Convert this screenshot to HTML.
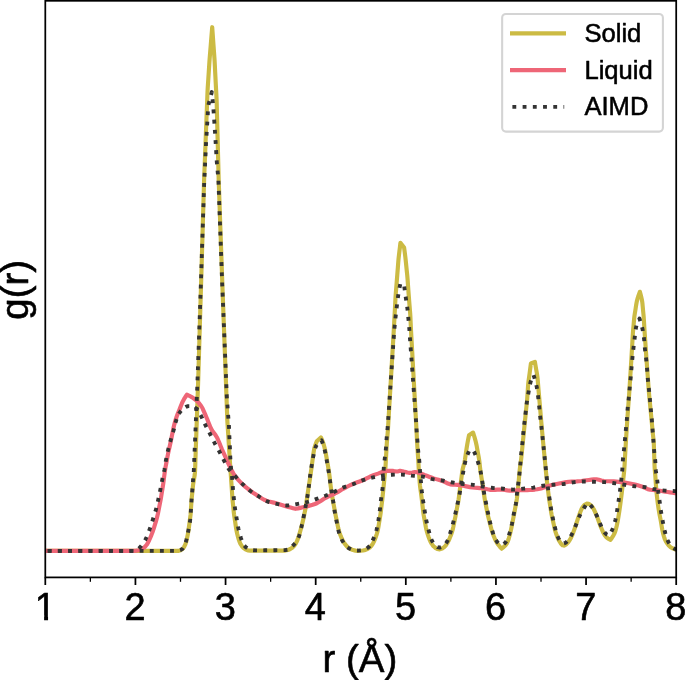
<!DOCTYPE html>
<html lang="en">
<head>
<meta charset="utf-8">
<title>g(r)</title>
<style>
html,body{margin:0;padding:0;background:#fff;}
body{width:685px;height:680px;overflow:hidden;}
svg{display:block;}
svg text{font-family:"Liberation Sans",Arial,Helvetica,sans-serif;fill:#000;stroke:#000;stroke-width:0.6px;stroke-linejoin:round;}
svg text.lg{stroke-width:0.55px;}
</style>
</head>
<body>
<svg width="685" height="680" viewBox="0 0 685 680">
<rect x="0" y="0" width="685" height="680" fill="#fff"/>
<defs><clipPath id="ax"><rect x="45.3" y="0.8" width="630.90" height="576.60"/></clipPath></defs>
<g clip-path="url(#ax)" fill="none" stroke-linejoin="round">
<polyline points="45.30,550.90 47.80,550.90 50.31,550.90 52.81,550.90 55.32,550.90 57.82,550.90 60.33,550.90 62.83,550.90 65.34,550.90 67.84,550.90 70.35,550.90 72.85,550.90 75.35,550.90 77.86,550.90 80.36,550.90 82.87,550.90 85.37,550.90 87.88,550.90 90.38,550.90 92.89,550.90 95.39,550.90 97.90,550.90 100.40,550.90 102.91,550.90 105.41,550.90 107.91,550.90 110.42,550.90 112.92,550.90 115.43,550.90 117.93,550.90 120.44,550.90 122.94,550.90 125.45,550.90 127.95,550.90 130.46,550.90 132.96,550.90 135.46,550.90 137.97,550.90 140.47,550.90 142.98,550.90 145.48,550.90 147.99,550.90 150.49,550.90 153.00,550.90 155.50,550.90 158.01,550.90 160.51,550.90 163.02,550.90 165.52,550.90 168.02,550.90 170.53,550.90 173.04,550.90 175.57,550.90 178.03,550.88 180.59,550.15 182.68,548.81 184.06,547.03 185.21,544.70 186.09,542.16 186.70,539.72 187.22,537.30 187.71,534.83 188.15,532.34 188.55,529.85 188.89,527.38 189.21,524.89 189.53,522.41 189.86,519.92 190.21,517.44 190.52,514.96 190.73,512.46 190.90,509.96 191.05,507.46 191.22,504.96 191.38,502.46 191.55,499.97 191.78,497.47 192.04,494.98 192.30,492.49 192.55,490.00 192.80,487.50 193.06,485.01 193.41,482.53 193.84,480.06 194.29,477.59 194.69,475.11 194.96,472.63 195.09,470.14 195.19,467.64 195.27,465.13 195.34,462.63 195.42,460.12 195.50,457.62 195.59,455.11 195.67,452.61 195.76,450.11 195.85,447.60 195.94,445.10 196.02,442.60 196.11,440.09 196.20,437.59 196.28,435.09 196.37,432.59 196.46,430.08 196.55,427.58 196.63,425.08 196.72,422.57 196.81,420.07 196.89,417.57 196.98,415.06 197.07,412.56 197.15,410.06 197.24,407.55 197.33,405.05 197.42,402.55 197.50,400.05 197.59,397.54 197.68,395.04 197.76,392.54 197.85,390.03 197.94,387.53 198.03,385.03 198.12,382.52 198.20,380.02 198.28,377.52 198.35,375.01 198.43,372.51 198.50,370.01 198.57,367.50 198.65,365.00 198.73,362.50 198.80,359.99 198.88,357.49 198.95,354.99 199.03,352.48 199.10,349.98 199.18,347.48 199.25,344.97 199.33,342.47 199.40,339.97 199.48,337.46 199.55,334.96 199.63,332.46 199.70,329.95 199.78,327.45 199.85,324.94 199.93,322.44 200.00,319.94 200.08,317.43 200.15,314.93 200.23,312.43 200.30,309.92 200.38,307.42 200.45,304.92 200.53,302.41 200.60,299.91 200.68,297.41 200.75,294.90 200.83,292.40 200.90,289.90 200.98,287.39 201.05,284.89 201.13,282.39 201.20,279.88 201.28,277.38 201.35,274.88 201.42,272.37 201.49,269.87 201.57,267.36 201.64,264.86 201.71,262.36 201.78,259.85 201.86,257.35 201.93,254.85 202.00,252.34 202.07,249.84 202.15,247.34 202.22,244.83 202.29,242.33 202.37,239.83 202.44,237.32 202.51,234.82 202.58,232.32 202.66,229.81 202.73,227.31 202.80,224.80 202.87,222.30 202.95,219.80 203.02,217.29 203.09,214.79 203.16,212.29 203.24,209.78 203.31,207.28 203.38,204.78 203.45,202.27 203.53,199.77 203.60,197.27 203.67,194.76 203.74,192.26 203.82,189.76 203.88,187.25 203.95,184.75 204.03,182.24 204.11,179.74 204.20,177.24 204.29,174.74 204.40,172.23 204.50,169.73 204.60,167.23 204.69,164.73 204.79,162.22 204.89,159.72 204.99,157.22 205.08,154.71 205.18,152.21 205.28,149.71 205.38,147.21 205.47,144.70 205.57,142.20 205.67,139.70 205.76,137.20 205.86,134.69 205.96,132.19 206.06,129.69 206.15,127.18 206.25,124.68 206.35,122.18 206.45,119.68 206.54,117.17 206.64,114.67 206.74,112.17 206.84,109.67 206.93,107.16 207.03,104.66 207.13,102.16 207.22,99.65 207.31,97.15 207.40,94.65 207.50,92.15 207.62,89.64 207.76,87.14 207.93,84.65 208.10,82.15 208.27,79.65 208.44,77.15 208.60,74.65 208.76,72.15 208.92,69.65 209.08,67.15 209.24,64.65 209.40,62.15 209.58,59.65 209.77,57.16 209.97,54.66 210.18,52.16 210.38,49.67 210.59,47.17 210.79,44.68 210.99,42.18 211.19,39.68 211.39,37.19 211.59,34.69 211.80,32.19 212.00,29.70 212.20,27.20 212.38,29.70 212.56,32.19 212.74,34.69 212.92,37.18 213.09,39.68 213.27,42.17 213.45,44.67 213.63,47.16 213.81,49.66 214.00,52.15 214.18,54.65 214.36,57.14 214.53,59.64 214.67,62.14 214.80,64.64 214.93,67.13 215.05,69.63 215.17,72.13 215.30,74.63 215.43,77.13 215.56,79.63 215.68,82.13 215.81,84.62 215.94,87.12 216.08,89.62 216.22,92.12 216.36,94.62 216.48,97.12 216.59,99.62 216.67,102.12 216.74,104.62 216.80,107.12 216.86,109.62 216.92,112.12 216.98,114.62 217.05,117.12 217.12,119.62 217.18,122.12 217.25,124.62 217.31,127.12 217.38,129.63 217.44,132.13 217.51,134.63 217.57,137.13 217.64,139.63 217.71,142.13 217.77,144.63 217.84,147.13 217.90,149.63 217.97,152.13 218.03,154.63 218.10,157.14 218.17,159.64 218.23,162.14 218.30,164.64 218.36,167.14 218.43,169.64 218.49,172.14 218.55,174.64 218.62,177.14 218.69,179.64 218.77,182.14 218.85,184.64 218.94,187.14 219.04,189.65 219.13,192.15 219.21,194.65 219.30,197.15 219.39,199.65 219.48,202.15 219.56,204.65 219.65,207.15 219.74,209.65 219.83,212.15 219.91,214.65 220.00,217.15 220.09,219.65 220.18,222.15 220.26,224.65 220.35,227.15 220.44,229.65 220.53,232.15 220.61,234.65 220.70,237.15 220.79,239.65 220.88,242.15 220.96,244.65 221.05,247.15 221.14,249.65 221.23,252.15 221.31,254.65 221.40,257.15 221.49,259.65 221.58,262.15 221.66,264.65 221.75,267.15 221.84,269.65 221.92,272.15 222.01,274.65 222.10,277.15 222.19,279.65 222.28,282.15 222.37,284.65 222.46,287.15 222.55,289.65 222.65,292.15 222.74,294.65 222.83,297.15 222.92,299.65 223.01,302.15 223.10,304.65 223.20,307.15 223.29,309.65 223.38,312.15 223.47,314.65 223.56,317.15 223.65,319.66 223.75,322.16 223.84,324.66 223.93,327.16 224.02,329.66 224.11,332.16 224.20,334.66 224.30,337.16 224.39,339.66 224.48,342.16 224.57,344.66 224.66,347.16 224.75,349.66 224.85,352.16 224.94,354.66 225.03,357.16 225.12,359.66 225.21,362.16 225.30,364.66 225.40,367.16 225.49,369.66 225.58,372.16 225.67,374.66 225.76,377.16 225.85,379.66 225.95,382.16 226.04,384.66 226.13,387.16 226.22,389.66 226.31,392.16 226.41,394.66 226.50,397.16 226.59,399.66 226.68,402.16 226.76,404.66 226.85,407.16 226.94,409.66 227.02,412.16 227.10,414.66 227.19,417.16 227.28,419.66 227.41,422.16 227.57,424.65 227.74,427.15 227.91,429.65 228.07,432.14 228.23,434.64 228.39,437.14 228.55,439.63 228.71,442.13 228.87,444.63 229.02,447.12 229.18,449.62 229.34,452.12 229.50,454.61 229.66,457.11 229.81,459.61 229.97,462.11 230.13,464.60 230.30,467.10 230.47,469.59 230.64,472.09 230.81,474.59 230.98,477.08 231.15,479.58 231.32,482.07 231.49,484.57 231.66,487.07 231.83,489.56 232.00,492.06 232.16,494.55 232.33,497.05 232.51,499.55 232.75,502.04 233.01,504.52 233.28,507.01 233.52,509.50 233.76,511.99 234.05,514.48 234.40,516.95 234.79,519.43 235.17,521.90 235.53,524.38 235.89,526.86 236.29,529.32 236.76,531.79 237.32,534.26 237.95,536.71 238.63,539.10 239.39,541.42 240.45,543.80 241.82,546.02 243.41,547.82 245.40,549.27 247.81,550.36 250.25,550.60 252.71,550.60 255.22,550.60 257.76,550.60 260.29,550.60 262.79,550.60 265.29,550.60 267.80,550.60 270.30,550.60 272.80,550.60 275.31,550.60 277.84,550.60 280.36,550.60 282.85,550.60 285.30,550.58 287.81,550.03 290.22,548.98 292.24,547.73 293.97,546.05 295.50,543.92 296.75,541.62 297.69,539.36 298.51,537.03 299.27,534.63 299.98,532.19 300.65,529.75 301.29,527.34 301.92,524.92 302.53,522.49 303.12,520.05 303.67,517.61 304.18,515.17 304.67,512.71 305.14,510.25 305.58,507.79 306.00,505.32 306.37,502.85 306.73,500.38 307.07,497.90 307.41,495.42 307.76,492.94 308.13,490.46 308.51,487.99 308.90,485.52 309.28,483.05 309.66,480.58 310.03,478.10 310.39,475.63 310.75,473.15 311.11,470.67 311.45,468.20 311.79,465.72 312.12,463.24 312.45,460.76 312.79,458.28 313.12,455.78 313.47,453.30 313.85,450.83 314.31,448.40 315.00,446.00 315.86,443.64 316.80,441.30 320.90,437.40 321.96,439.68 322.90,442.00 323.65,444.36 324.31,446.77 324.91,449.21 325.45,451.66 325.93,454.11 326.37,456.57 326.80,459.03 327.22,461.50 327.63,463.97 328.05,466.43 328.46,468.90 328.85,471.37 329.22,473.84 329.55,476.32 329.84,478.80 330.11,481.29 330.40,483.77 330.71,486.25 331.05,488.73 331.41,491.20 331.78,493.68 332.17,496.15 332.57,498.61 332.99,501.08 333.45,503.54 333.91,505.99 334.36,508.45 334.80,510.91 335.26,513.37 335.74,515.83 336.24,518.27 336.75,520.72 337.24,523.18 337.72,525.64 338.23,528.08 338.84,530.49 339.59,532.91 340.46,535.30 341.42,537.63 342.44,539.88 343.59,542.05 345.03,544.20 346.70,546.18 348.53,547.78 350.61,549.03 353.00,550.04 355.44,550.62 357.93,550.83 360.47,550.80 362.94,550.55 365.43,549.90 367.79,548.85 369.75,547.54 371.43,545.76 372.90,543.60 374.10,541.30 375.03,539.04 375.90,536.71 376.70,534.30 377.40,531.87 377.97,529.42 378.43,526.98 378.82,524.51 379.21,522.03 379.62,519.56 380.03,517.10 380.42,514.63 380.76,512.15 381.05,509.67 381.35,507.19 381.65,504.70 381.97,502.22 382.26,499.74 382.53,497.26 382.78,494.77 383.03,492.28 383.28,489.79 383.54,487.31 383.79,484.82 384.03,482.33 384.27,479.84 384.50,477.35 384.75,474.86 385.00,472.38 385.25,469.89 385.44,467.39 385.61,464.90 385.75,462.40 385.88,459.91 386.02,457.41 386.16,454.91 386.30,452.42 386.44,449.92 386.57,447.42 386.72,444.93 386.88,442.43 387.06,439.94 387.27,437.45 387.50,434.96 387.71,432.47 387.90,429.97 388.06,427.48 388.21,424.98 388.35,422.49 388.49,419.99 388.64,417.49 388.79,415.00 388.93,412.50 389.08,410.01 389.23,407.51 389.37,405.01 389.52,402.52 389.67,400.02 389.82,397.53 389.96,395.03 390.11,392.54 390.26,390.04 390.40,387.54 390.55,385.05 390.70,382.55 390.85,380.06 390.99,377.56 391.14,375.06 391.29,372.57 391.44,370.07 391.58,367.58 391.73,365.08 391.88,362.58 392.02,360.09 392.17,357.59 392.32,355.10 392.47,352.60 392.61,350.10 392.76,347.61 392.91,345.11 393.06,342.62 393.20,340.12 393.35,337.63 393.50,335.13 393.65,332.63 393.79,330.14 393.93,327.64 394.06,325.14 394.19,322.65 394.32,320.15 394.46,317.65 394.59,315.16 394.72,312.66 394.86,310.16 394.99,307.67 395.12,305.17 395.24,302.67 395.37,300.18 395.51,297.68 395.67,295.18 395.85,292.69 396.06,290.20 396.27,287.71 396.46,285.21 396.66,282.72 396.85,280.23 397.05,277.74 397.25,275.24 397.44,272.75 397.64,270.26 397.84,267.77 398.03,265.27 398.21,262.78 398.42,260.29 398.66,257.80 398.95,255.32 399.25,252.83 399.54,250.35 399.83,247.87 400.11,245.38 400.40,242.90 404.10,247.60 404.44,250.08 404.77,252.57 405.09,255.06 405.39,257.54 405.67,260.03 405.93,262.53 406.18,265.02 406.43,267.52 406.68,270.01 406.95,272.50 407.21,274.99 407.43,277.49 407.63,279.99 407.81,282.49 407.98,284.99 408.16,287.49 408.34,289.99 408.52,292.49 408.71,294.99 408.90,297.49 409.09,299.99 409.29,302.49 409.49,304.99 409.69,307.48 409.90,309.98 410.11,312.48 410.28,314.98 410.42,317.48 410.53,319.99 410.64,322.49 410.76,325.00 410.88,327.50 411.00,330.00 411.13,332.51 411.27,335.01 411.41,337.51 411.55,340.01 411.69,342.52 411.83,345.02 411.96,347.52 412.10,350.02 412.24,352.53 412.38,355.03 412.51,357.53 412.65,360.04 412.79,362.54 412.93,365.04 413.06,367.54 413.20,370.05 413.34,372.55 413.48,375.05 413.62,377.55 413.75,380.06 413.89,382.56 414.03,385.06 414.17,387.57 414.30,390.07 414.44,392.57 414.58,395.07 414.72,397.58 414.85,400.08 414.99,402.58 415.13,405.08 415.27,407.59 415.40,410.09 415.54,412.59 415.68,415.10 415.82,417.60 415.96,420.10 416.10,422.60 416.24,425.11 416.37,427.61 416.51,430.11 416.63,432.62 416.75,435.12 416.87,437.62 416.99,440.13 417.13,442.63 417.28,445.13 417.44,447.63 417.61,450.13 417.77,452.64 417.93,455.14 418.09,457.64 418.26,460.14 418.41,462.64 418.56,465.14 418.67,467.65 418.81,470.15 418.98,472.65 419.18,475.15 419.37,477.65 419.55,480.15 419.73,482.65 419.94,485.15 420.24,487.63 420.59,490.12 420.92,492.60 421.25,495.09 421.57,497.57 421.88,500.06 422.17,502.55 422.45,505.04 422.74,507.53 423.01,510.02 423.29,512.52 423.64,514.99 424.08,517.46 424.56,519.92 425.02,522.39 425.45,524.86 425.90,527.33 426.42,529.77 427.06,532.21 427.80,534.63 428.62,537.01 429.49,539.32 430.51,541.64 431.78,543.90 433.25,545.91 435.05,547.61 437.33,548.98 439.66,549.38 442.12,548.55 444.22,547.09 445.85,545.29 447.27,543.16 448.50,540.86 449.52,538.58 450.47,536.28 451.36,533.92 452.15,531.51 452.83,529.10 453.37,526.67 453.86,524.20 454.34,521.74 454.85,519.28 455.36,516.83 455.85,514.37 456.31,511.91 456.76,509.44 457.21,506.97 457.68,504.51 458.15,502.05 458.57,499.58 458.92,497.10 459.23,494.61 459.54,492.12 459.86,489.64 460.18,487.15 460.50,484.66 460.84,482.18 461.18,479.70 461.52,477.21 461.84,474.72 462.16,472.23 462.54,469.76 463.12,467.33 463.83,464.92 464.46,462.49 464.90,460.03 465.26,457.55 465.61,455.06 465.97,452.58 466.34,450.10 466.72,447.62 467.13,445.15 467.57,442.68 468.03,440.22 468.51,437.76 469.00,435.30 473.10,432.60 473.85,435.00 474.58,437.41 475.26,439.84 475.88,442.27 476.43,444.71 476.90,447.18 477.33,449.66 477.78,452.13 478.25,454.60 478.72,457.07 479.11,459.55 479.44,462.05 479.72,464.54 479.99,467.04 480.28,469.54 480.60,472.03 480.98,474.52 481.38,477.00 481.78,479.48 482.17,481.96 482.56,484.45 482.94,486.93 483.31,489.42 483.66,491.91 484.02,494.39 484.39,496.88 484.79,499.36 485.24,501.83 485.72,504.30 486.20,506.77 486.66,509.24 487.12,511.71 487.62,514.17 488.20,516.62 488.83,519.05 489.46,521.48 490.06,523.93 490.66,526.38 491.30,528.80 492.02,531.20 492.83,533.62 493.71,536.00 494.66,538.33 495.69,540.57 496.88,542.72 498.32,544.81 499.91,546.80 501.60,548.70 503.62,547.05 505.49,545.19 506.97,543.17 507.92,541.03 508.71,538.71 509.42,536.28 510.07,533.77 510.67,531.24 511.21,528.75 511.71,526.28 512.19,523.80 512.67,521.32 513.17,518.85 513.66,516.37 514.14,513.90 514.60,511.42 515.05,508.93 515.51,506.45 515.99,503.97 516.47,501.49 516.85,499.00 517.15,496.50 517.40,493.99 517.66,491.48 517.94,488.97 518.22,486.46 518.47,483.95 518.70,481.44 518.91,478.92 519.13,476.41 519.34,473.89 519.56,471.38 519.83,468.87 520.15,466.37 520.52,463.87 520.87,461.37 521.19,458.87 521.46,456.36 521.71,453.85 521.96,451.34 522.20,448.83 522.45,446.32 522.70,443.81 522.95,441.30 523.20,438.79 523.45,436.28 523.70,433.77 523.95,431.25 524.20,428.74 524.45,426.23 524.70,423.72 524.95,421.21 525.20,418.70 525.45,416.19 525.70,413.68 525.96,411.17 526.22,408.66 526.48,406.15 526.75,403.64 527.00,401.13 527.21,398.62 527.38,396.10 527.55,393.58 527.72,391.06 527.87,388.54 528.04,386.02 528.26,383.51 528.54,381.01 528.89,378.51 529.25,376.01 529.59,373.51 529.92,371.01 530.24,368.50 530.57,366.00 530.90,363.50 534.90,361.80 535.31,364.28 535.73,366.76 536.14,369.25 536.58,371.73 537.03,374.21 537.39,376.69 537.65,379.19 537.86,381.70 538.06,384.21 538.26,386.72 538.47,389.23 538.69,391.74 538.91,394.24 539.12,396.75 539.34,399.26 539.56,401.77 539.77,404.27 539.99,406.78 540.20,409.29 540.42,411.80 540.63,414.30 540.85,416.81 541.06,419.32 541.28,421.83 541.50,424.33 541.73,426.84 541.95,429.35 542.17,431.85 542.39,434.36 542.62,436.87 542.84,439.37 543.08,441.88 543.32,444.38 543.56,446.89 543.81,449.39 544.05,451.90 544.29,454.40 544.53,456.91 544.78,459.41 545.02,461.92 545.26,464.42 545.50,466.93 545.74,469.43 545.99,471.94 546.25,474.44 546.51,476.94 546.76,479.45 547.01,481.95 547.27,484.45 547.57,486.95 547.90,489.45 548.24,491.94 548.55,494.44 548.87,496.94 549.20,499.43 549.58,501.92 549.98,504.40 550.37,506.89 550.75,509.38 551.12,511.87 551.55,514.35 552.05,516.81 552.61,519.27 553.16,521.72 553.68,524.19 554.20,526.66 554.77,529.10 555.44,531.53 556.21,533.95 557.09,536.33 558.08,538.62 559.28,541.02 560.82,543.52 562.54,545.32 564.32,545.59 566.39,544.21 568.37,542.03 569.85,539.88 571.04,537.69 572.08,535.39 573.03,533.02 573.93,530.63 574.79,528.27 575.61,525.90 576.39,523.50 577.15,521.09 577.92,518.69 578.74,516.31 579.61,513.94 580.51,511.49 581.52,509.12 582.72,506.96 584.29,505.09 586.64,503.68 588.86,503.81 591.00,505.42 592.63,507.40 593.90,509.52 595.01,511.82 596.01,514.19 596.97,516.51 597.86,518.86 598.71,521.24 599.55,523.62 600.43,525.98 601.38,528.31 602.39,530.71 603.49,533.06 604.71,535.21 606.15,537.05 608.16,538.64 610.50,539.80 611.97,537.72 613.35,535.56 614.53,533.33 615.38,531.04 616.03,528.68 616.63,526.24 617.17,523.76 617.66,521.27 618.10,518.78 618.51,516.31 618.90,513.83 619.29,511.35 619.66,508.87 620.01,506.38 620.35,503.89 620.68,501.41 621.01,498.92 621.32,496.43 621.63,493.94 621.93,491.44 622.22,488.95 622.50,486.46 622.78,483.96 623.04,481.47 623.31,478.97 623.58,476.47 623.85,473.98 624.11,471.48 624.33,468.98 624.50,466.48 624.65,463.97 624.78,461.47 624.92,458.96 625.06,456.45 625.20,453.95 625.35,451.44 625.49,448.94 625.63,446.43 625.77,443.93 625.91,441.42 626.07,438.92 626.23,436.41 626.39,433.91 626.56,431.40 626.72,428.90 626.89,426.39 627.05,423.89 627.21,421.38 627.37,418.88 627.54,416.37 627.71,413.87 627.89,411.37 628.07,408.86 628.25,406.36 628.44,403.86 628.62,401.36 628.81,398.85 628.99,396.35 629.17,393.85 629.34,391.34 629.51,388.84 629.67,386.33 629.82,383.83 629.98,381.32 630.14,378.82 630.30,376.31 630.46,373.81 630.62,371.30 630.77,368.80 630.93,366.29 631.08,363.79 631.23,361.28 631.38,358.78 631.53,356.27 631.68,353.77 631.83,351.26 631.98,348.76 632.13,346.25 632.28,343.75 632.42,341.24 632.57,338.73 632.71,336.23 632.87,333.72 633.04,331.22 633.25,328.72 633.49,326.22 633.71,323.72 633.92,321.22 634.13,318.72 634.41,316.23 634.78,313.74 635.20,311.27 635.60,308.79 635.96,306.29 636.35,303.81 636.82,301.37 637.44,298.95 638.19,296.55 639.03,294.16 639.90,291.80 640.57,294.23 641.20,296.68 641.76,299.13 642.19,301.60 642.49,304.08 642.72,306.59 642.94,309.10 643.18,311.60 643.44,314.10 643.66,316.61 643.84,319.11 643.99,321.62 644.13,324.13 644.28,326.64 644.43,329.15 644.59,331.66 644.76,334.17 644.93,336.68 645.10,339.18 645.28,341.69 645.45,344.20 645.62,346.71 645.79,349.21 645.96,351.72 646.14,354.23 646.31,356.74 646.49,359.25 646.67,361.75 646.86,364.26 647.04,366.77 647.23,369.27 647.41,371.78 647.59,374.29 647.78,376.80 647.96,379.30 648.14,381.81 648.32,384.32 648.50,386.83 648.68,389.33 648.88,391.84 649.10,394.34 649.33,396.84 649.58,399.35 649.83,401.85 650.07,404.35 650.31,406.85 650.55,409.36 650.79,411.86 651.02,414.36 651.26,416.86 651.50,419.37 651.74,421.87 651.98,424.37 652.22,426.87 652.45,429.38 652.69,431.88 652.93,434.38 653.20,436.88 653.47,439.38 653.70,441.89 653.84,444.39 653.94,446.90 654.02,449.42 654.10,451.93 654.17,454.44 654.26,456.96 654.33,459.47 654.41,461.98 654.49,464.49 654.60,467.01 654.76,469.51 654.98,472.02 655.21,474.52 655.42,477.03 655.59,479.54 655.75,482.04 655.92,484.55 656.09,487.06 656.29,489.57 656.51,492.07 656.76,494.57 657.03,497.07 657.32,499.57 657.61,502.06 657.94,504.56 658.30,507.05 658.68,509.53 659.09,512.01 659.53,514.49 660.01,516.95 660.51,519.42 660.98,521.89 661.39,524.37 661.77,526.86 662.20,529.33 662.72,531.80 663.31,534.26 663.99,536.68 664.78,539.03 665.89,541.33 667.19,543.49 668.72,545.48 670.60,547.19 672.73,548.45 675.10,549.42 677.50,550.08 680.00,550.50" stroke="#CCBB44" stroke-width="4.15"/>
<polyline points="45.30,550.90 47.82,550.90 50.34,550.90 52.86,550.90 55.38,550.90 57.90,550.90 60.42,550.90 62.94,550.90 65.46,550.90 67.98,550.90 70.50,550.90 73.03,550.90 75.55,550.90 78.07,550.90 80.59,550.90 83.11,550.90 85.63,550.90 88.15,550.90 90.67,550.90 93.19,550.90 95.71,550.90 98.23,550.90 100.75,550.90 103.27,550.90 105.79,550.90 108.31,550.90 110.83,550.90 113.35,550.90 115.87,550.90 118.39,550.90 120.91,550.90 123.44,550.90 125.96,550.90 128.48,550.90 131.00,550.90 133.52,550.89 136.07,550.67 138.56,550.26 140.92,549.61 143.21,548.31 145.14,546.66 146.67,544.80 148.00,542.61 149.17,540.28 150.18,537.99 151.14,535.67 152.06,533.31 152.93,530.92 153.74,528.53 154.49,526.13 155.23,523.72 155.94,521.30 156.62,518.87 157.25,516.42 157.83,513.97 158.34,511.51 158.81,509.03 159.29,506.55 159.79,504.08 160.28,501.61 160.75,499.14 161.17,496.65 161.56,494.16 161.96,491.67 162.38,489.19 162.79,486.70 163.17,484.21 163.51,481.71 163.84,479.21 164.16,476.71 164.48,474.21 164.81,471.71 165.18,469.22 165.61,466.74 166.09,464.26 166.55,461.78 167.00,459.30 167.45,456.82 167.93,454.35 168.45,451.88 169.00,449.42 169.56,446.96 170.11,444.51 170.65,442.04 171.16,439.57 171.66,437.10 172.15,434.63 172.64,432.16 173.13,429.68 173.65,427.22 174.24,424.77 174.89,422.34 175.60,419.91 176.36,417.51 177.20,415.14 178.14,412.80 179.12,410.47 180.05,408.12 180.94,405.75 181.87,403.41 182.92,401.15 184.13,398.94 185.47,396.79 186.90,394.70 189.36,395.79 191.68,397.06 193.84,398.49 195.84,400.04 197.69,401.72 199.40,403.63 200.98,405.73 202.40,408.00 203.41,410.31 204.41,412.62 205.40,414.93 206.39,417.24 207.37,419.57 208.29,421.93 209.20,424.29 210.15,426.63 211.19,428.90 212.44,431.05 213.98,433.07 215.52,435.08 216.82,437.22 217.90,439.47 218.89,441.78 219.84,444.12 220.78,446.47 221.74,448.81 222.76,451.11 223.79,453.41 224.82,455.71 225.84,458.01 226.86,460.32 227.90,462.60 228.97,464.89 230.06,467.18 231.18,469.45 232.36,471.67 233.63,473.81 235.04,475.87 236.60,477.87 238.26,479.80 239.96,481.65 241.71,483.43 243.55,485.17 245.45,486.84 247.39,488.45 249.36,490.00 251.38,491.50 253.45,492.95 255.55,494.35 257.65,495.73 259.77,497.15 261.91,498.53 264.11,499.76 266.38,500.71 268.76,501.42 271.22,502.03 273.70,502.61 276.13,503.29 278.54,504.02 280.94,504.78 283.35,505.52 285.77,506.22 288.19,506.89 290.62,507.55 293.06,508.19 295.50,508.80 297.97,508.36 300.43,507.86 302.88,507.31 305.31,506.75 307.76,506.17 310.20,505.53 312.62,504.82 314.97,504.01 317.22,503.01 319.39,501.77 321.51,500.40 323.64,499.03 325.82,497.78 328.07,496.68 330.35,495.63 332.63,494.59 334.89,493.51 337.11,492.35 339.28,491.09 341.44,489.81 343.61,488.55 345.82,487.38 348.05,486.25 350.32,485.16 352.60,484.12 354.91,483.15 357.26,482.29 359.62,481.45 361.97,480.56 364.26,479.55 366.50,478.42 368.74,477.28 371.00,476.21 373.32,475.28 375.68,474.42 378.04,473.59 380.39,472.68 382.76,471.81 385.17,471.21 387.66,470.88 390.18,470.75 392.67,470.86 395.14,471.42 397.60,471.45 400.06,470.81 402.50,471.19 404.93,471.88 407.37,472.48 409.84,472.83 412.34,472.45 414.84,471.98 417.26,472.25 419.63,473.01 421.98,473.99 424.33,474.96 426.68,475.82 429.03,476.70 431.38,477.56 433.75,478.38 436.15,479.12 438.56,479.81 440.96,480.52 443.32,481.36 445.61,482.45 447.90,483.55 450.23,484.34 452.68,484.68 455.19,484.79 457.72,484.87 460.22,485.13 462.69,485.59 465.14,486.11 467.59,486.65 470.05,487.14 472.52,487.53 475.01,487.77 477.52,487.91 480.02,488.06 482.51,488.29 484.98,488.74 487.44,489.32 489.89,489.82 492.37,490.02 494.87,489.88 497.38,489.62 499.88,489.48 502.38,489.65 504.87,490.01 507.35,490.41 509.84,490.67 512.34,490.67 514.84,490.54 517.34,490.38 519.85,490.23 522.35,490.15 524.86,490.11 527.37,490.07 529.87,490.01 532.37,489.86 534.87,489.57 537.35,489.18 539.82,488.72 542.24,488.14 544.62,487.34 546.99,486.49 549.38,485.73 551.80,485.11 554.24,484.52 556.69,483.97 559.14,483.47 561.60,482.99 564.07,482.52 566.54,482.10 569.02,481.76 571.52,481.56 574.02,481.47 576.53,481.40 579.03,481.26 581.53,480.99 584.01,480.64 586.49,480.28 588.97,479.94 591.47,479.58 593.96,479.29 596.44,479.22 598.89,479.67 601.32,480.42 603.76,481.06 606.24,481.28 608.75,481.30 611.26,481.30 613.77,481.38 616.27,481.60 618.76,481.87 621.25,482.18 623.73,482.50 626.22,482.85 628.70,483.24 631.16,483.68 633.61,484.17 636.04,484.77 638.46,485.46 640.86,486.22 643.22,487.03 645.53,488.09 647.83,489.14 650.20,489.78 652.68,490.00 655.20,490.14 657.70,490.43 660.18,490.82 662.65,491.23 665.12,491.63 667.60,492.01 670.08,492.39 672.55,492.76 675.03,493.12 677.52,493.47 680.00,493.80" stroke="#EE6677" stroke-width="4.15"/>
<polyline points="45.30,550.90 47.81,550.90 50.31,550.90 52.82,550.90 55.32,550.90 57.83,550.90 60.34,550.90 62.84,550.90 65.35,550.90 67.85,550.90 70.36,550.90 72.86,550.90 75.37,550.90 77.88,550.90 80.38,550.90 82.89,550.90 85.39,550.90 87.90,550.90 90.41,550.90 92.91,550.90 95.42,550.90 97.92,550.90 100.43,550.90 102.94,550.90 105.44,550.90 107.95,550.90 110.45,550.90 112.96,550.90 115.46,550.90 117.97,550.90 120.48,550.90 122.98,550.90 125.49,550.90 127.99,550.90 130.50,550.90 133.01,550.90 135.51,550.90 138.02,550.90 140.52,550.90 143.03,550.90 145.54,550.90 148.04,550.90 150.55,550.90 153.05,550.90 155.56,550.90 158.06,550.90 160.57,550.90 163.08,550.90 165.59,550.90 168.10,550.90 170.61,550.90 173.11,550.90 175.62,550.89 178.31,550.59 180.76,549.96 182.48,548.92 183.89,546.92 185.02,544.36 185.87,541.76 186.50,539.38 187.06,536.94 187.59,534.47 188.08,531.99 188.55,529.52 189.04,527.06 189.52,524.60 189.92,522.13 190.21,519.64 190.43,517.15 190.61,514.65 190.79,512.15 190.95,509.64 191.10,507.14 191.24,504.64 191.40,502.14 191.57,499.64 191.77,497.14 191.98,494.64 192.18,492.15 192.37,489.65 192.54,487.15 192.70,484.65 192.87,482.15 193.05,479.65 193.27,477.15 193.50,474.66 193.71,472.16 193.85,469.66 193.97,467.16 194.08,464.65 194.17,462.15 194.26,459.64 194.36,457.14 194.47,454.63 194.57,452.13 194.67,449.63 194.78,447.12 194.88,444.62 194.99,442.12 195.09,439.61 195.19,437.11 195.30,434.60 195.40,432.10 195.51,429.60 195.61,427.09 195.71,424.59 195.82,422.09 195.92,419.58 196.03,417.08 196.13,414.57 196.23,412.07 196.34,409.57 196.44,407.06 196.55,404.56 196.65,402.06 196.76,399.55 196.86,397.05 196.97,394.55 197.07,392.04 197.17,389.54 197.27,387.03 197.36,384.53 197.44,382.03 197.53,379.52 197.62,377.02 197.70,374.51 197.79,372.01 197.88,369.50 197.97,367.00 198.06,364.49 198.15,361.99 198.23,359.49 198.32,356.98 198.41,354.48 198.50,351.97 198.59,349.47 198.68,346.96 198.76,344.46 198.85,341.96 198.94,339.45 199.03,336.95 199.12,334.44 199.20,331.94 199.29,329.43 199.38,326.93 199.47,324.43 199.56,321.92 199.65,319.42 199.73,316.91 199.82,314.41 199.91,311.90 200.00,309.40 200.09,306.90 200.18,304.39 200.26,301.89 200.35,299.38 200.44,296.88 200.53,294.37 200.62,291.87 200.71,289.36 200.79,286.86 200.88,284.36 200.96,281.85 201.04,279.35 201.12,276.84 201.20,274.34 201.28,271.83 201.36,269.33 201.44,266.82 201.53,264.32 201.61,261.81 201.69,259.31 201.77,256.81 201.85,254.30 201.93,251.80 202.01,249.29 202.10,246.79 202.18,244.28 202.26,241.78 202.34,239.27 202.42,236.77 202.50,234.26 202.58,231.76 202.66,229.26 202.75,226.75 202.83,224.25 202.91,221.74 202.99,219.24 203.07,216.73 203.15,214.23 203.23,211.72 203.31,209.22 203.40,206.71 203.48,204.21 203.56,201.71 203.64,199.20 203.72,196.70 203.80,194.19 203.87,191.69 203.95,189.18 204.04,186.68 204.13,184.17 204.24,181.67 204.35,179.17 204.48,176.66 204.60,174.16 204.72,171.66 204.83,169.15 204.95,166.65 205.07,164.15 205.18,161.65 205.30,159.14 205.41,156.64 205.53,154.14 205.64,151.63 205.75,149.13 205.87,146.63 205.99,144.12 206.13,141.62 206.28,139.12 206.44,136.62 206.59,134.12 206.75,131.62 206.90,129.12 207.05,126.61 207.20,124.11 207.36,121.61 207.51,119.11 207.65,116.60 207.77,114.09 207.90,111.58 208.05,109.08 208.24,106.60 208.61,104.14 209.27,101.72 209.97,99.29 210.58,96.86 211.19,94.43 211.80,92.00 212.05,94.49 212.30,96.98 212.55,99.47 212.81,101.95 213.06,104.44 213.27,106.93 213.45,109.43 213.62,111.92 213.79,114.42 213.97,116.91 214.15,119.41 214.32,121.90 214.48,124.40 214.64,126.89 214.80,129.39 214.96,131.88 215.12,134.38 215.29,136.88 215.45,139.37 215.60,141.87 215.76,144.36 215.90,146.86 216.05,149.36 216.20,151.85 216.34,154.35 216.48,156.85 216.63,159.34 216.79,161.84 216.98,164.33 217.21,166.82 217.45,169.31 217.67,171.80 217.92,174.29 218.16,176.78 218.36,179.28 218.48,181.77 218.59,184.27 218.67,186.77 218.75,189.27 218.83,191.77 218.92,194.27 219.01,196.77 219.10,199.27 219.20,201.77 219.29,204.27 219.38,206.77 219.47,209.27 219.56,211.77 219.65,214.26 219.74,216.76 219.83,219.26 219.93,221.76 220.02,224.26 220.11,226.76 220.20,229.26 220.29,231.76 220.38,234.26 220.47,236.76 220.57,239.26 220.66,241.76 220.75,244.26 220.84,246.75 220.93,249.25 221.02,251.75 221.11,254.25 221.20,256.75 221.30,259.25 221.39,261.75 221.48,264.25 221.57,266.75 221.66,269.25 221.75,271.75 221.84,274.25 221.93,276.75 222.02,279.24 222.11,281.74 222.21,284.24 222.31,286.74 222.41,289.24 222.51,291.74 222.62,294.24 222.72,296.74 222.82,299.24 222.93,301.73 223.03,304.23 223.13,306.73 223.23,309.23 223.33,311.73 223.44,314.23 223.54,316.73 223.64,319.23 223.74,321.73 223.84,324.22 223.95,326.72 224.05,329.22 224.15,331.72 224.25,334.22 224.36,336.72 224.46,339.22 224.56,341.72 224.66,344.21 224.76,346.71 224.87,349.21 224.97,351.71 225.07,354.21 225.17,356.71 225.28,359.21 225.38,361.71 225.48,364.20 225.58,366.70 225.68,369.20 225.79,371.70 225.89,374.20 225.99,376.70 226.09,379.20 226.19,381.70 226.30,384.20 226.39,386.69 226.49,389.19 226.58,391.69 226.69,394.19 226.81,396.69 226.97,399.18 227.15,401.68 227.35,404.17 227.54,406.67 227.73,409.16 227.91,411.65 228.09,414.15 228.27,416.64 228.46,419.14 228.66,421.63 228.85,424.12 229.00,426.62 229.12,429.12 229.20,431.62 229.29,434.12 229.38,436.62 229.50,439.11 229.63,441.61 229.75,444.11 229.87,446.61 229.98,449.11 230.07,451.61 230.16,454.11 230.26,456.60 230.38,459.10 230.53,461.60 230.71,464.09 230.90,466.59 231.12,469.08 231.39,471.56 231.69,474.05 231.97,476.53 232.21,479.02 232.41,481.52 232.59,484.01 232.78,486.50 232.98,489.00 233.20,491.49 233.42,493.98 233.65,496.47 233.90,498.96 234.16,501.44 234.45,503.93 234.76,506.41 235.10,508.89 235.47,511.36 235.87,513.83 236.28,516.30 236.69,518.76 237.10,521.24 237.52,523.71 237.95,526.17 238.42,528.62 238.97,531.06 239.61,533.50 240.31,535.91 241.05,538.27 241.90,540.74 242.93,543.25 244.16,545.46 245.62,547.08 247.57,548.35 249.98,549.43 252.59,550.16 255.12,550.40 257.59,550.38 260.09,550.35 262.62,550.33 265.13,550.30 267.63,550.28 270.13,550.25 272.63,550.23 275.13,550.20 277.66,550.18 280.23,550.16 282.76,550.14 285.18,550.11 287.48,549.73 289.72,548.46 291.79,546.72 293.58,544.92 295.19,543.06 296.70,540.98 298.00,538.75 299.00,536.48 299.73,534.16 300.37,531.74 300.95,529.27 301.49,526.80 302.02,524.36 302.55,521.91 303.06,519.46 303.56,517.01 304.05,514.56 304.53,512.11 305.01,509.65 305.48,507.19 305.94,504.74 306.40,502.28 306.86,499.82 307.28,497.35 307.67,494.89 308.03,492.41 308.36,489.93 308.69,487.45 309.00,484.97 309.30,482.49 309.59,480.00 309.89,477.52 310.22,475.04 310.57,472.57 310.95,470.09 311.34,467.62 311.74,465.15 312.14,462.68 312.57,460.21 313.01,457.75 313.48,455.30 314.01,452.80 314.64,450.30 315.36,447.90 316.21,445.74 317.61,443.75 319.50,441.95 321.60,440.40 322.45,442.76 323.26,445.13 324.01,447.53 324.67,449.93 325.22,452.36 325.71,454.81 326.16,457.28 326.59,459.75 327.04,462.21 327.48,464.67 327.92,467.13 328.34,469.60 328.73,472.07 329.10,474.55 329.44,477.02 329.79,479.50 330.14,481.98 330.49,484.46 330.85,486.93 331.21,489.41 331.59,491.88 332.01,494.35 332.44,496.81 332.87,499.28 333.27,501.75 333.63,504.22 333.97,506.70 334.32,509.18 334.71,511.65 335.14,514.11 335.62,516.57 336.10,519.02 336.60,521.48 337.08,523.94 337.56,526.41 338.08,528.86 338.64,531.28 339.33,533.67 340.20,536.07 341.20,538.40 342.29,540.61 343.54,542.76 345.07,544.91 346.83,546.82 348.76,548.27 350.92,549.25 353.38,550.00 355.95,550.48 358.47,550.61 360.96,550.34 363.55,549.68 365.99,548.72 368.08,547.52 369.70,545.98 371.08,543.89 372.26,541.50 373.28,539.10 374.21,536.80 375.11,534.45 375.92,532.06 376.59,529.66 377.13,527.23 377.62,524.77 378.07,522.30 378.48,519.83 378.86,517.36 379.22,514.88 379.56,512.40 379.87,509.92 380.15,507.43 380.41,504.94 380.66,502.46 380.93,499.97 381.27,497.49 381.66,495.02 382.06,492.54 382.39,490.07 382.62,487.58 382.79,485.08 382.94,482.59 383.08,480.09 383.22,477.59 383.36,475.09 383.48,472.59 383.63,470.09 383.81,467.60 384.04,465.11 384.30,462.62 384.58,460.13 384.85,457.64 385.16,455.16 385.47,452.68 385.75,450.19 385.98,447.70 386.16,445.21 386.31,442.71 386.46,440.21 386.66,437.72 386.90,435.23 387.15,432.74 387.40,430.25 387.62,427.76 387.80,425.26 387.98,422.77 388.14,420.27 388.30,417.77 388.46,415.28 388.63,412.78 388.80,410.28 388.97,407.79 389.14,405.29 389.31,402.80 389.48,400.30 389.65,397.80 389.82,395.31 389.99,392.81 390.16,390.32 390.33,387.82 390.49,385.32 390.66,382.83 390.83,380.33 391.00,377.84 391.17,375.34 391.34,372.84 391.51,370.35 391.68,367.85 391.85,365.36 392.02,362.86 392.19,360.36 392.36,357.87 392.53,355.37 392.70,352.88 392.87,350.38 393.03,347.88 393.20,345.39 393.36,342.89 393.53,340.39 393.71,337.90 393.89,335.40 394.08,332.91 394.29,330.42 394.50,327.92 394.72,325.43 394.96,322.94 395.21,320.45 395.48,317.96 395.74,315.48 396.03,312.99 396.32,310.51 396.62,308.02 396.92,305.54 397.21,303.05 397.52,300.57 397.84,298.09 398.19,295.61 398.57,293.14 398.99,290.68 399.44,288.21 399.92,285.76 400.40,283.30 404.10,285.30 404.43,287.78 404.77,290.26 405.11,292.74 405.45,295.22 405.80,297.70 406.16,300.18 406.54,302.66 406.92,305.14 407.26,307.61 407.56,310.10 407.82,312.59 408.06,315.08 408.29,317.58 408.53,320.07 408.77,322.56 409.01,325.06 409.22,327.55 409.42,330.05 409.59,332.55 409.75,335.04 409.91,337.54 410.09,340.04 410.27,342.54 410.45,345.04 410.64,347.53 410.82,350.03 411.00,352.53 411.19,355.03 411.37,357.52 411.55,360.02 411.73,362.52 411.92,365.02 412.10,367.51 412.28,370.01 412.46,372.51 412.65,375.01 412.83,377.50 413.01,380.00 413.19,382.50 413.38,385.00 413.56,387.49 413.74,389.99 413.92,392.49 414.11,394.99 414.29,397.48 414.47,399.98 414.65,402.48 414.84,404.98 415.02,407.47 415.20,409.97 415.38,412.47 415.57,414.97 415.76,417.46 415.95,419.96 416.13,422.46 416.30,424.96 416.43,427.46 416.56,429.96 416.73,432.45 416.93,434.95 417.14,437.45 417.35,439.94 417.54,442.44 417.73,444.94 417.91,447.43 418.11,449.93 418.35,452.42 418.63,454.91 418.93,457.40 419.20,459.89 419.42,462.38 419.60,464.88 419.76,467.38 419.94,469.88 420.14,472.37 420.35,474.87 420.58,477.36 420.80,479.86 421.01,482.35 421.22,484.85 421.42,487.34 421.64,489.84 421.90,492.33 422.23,494.81 422.59,497.29 422.97,499.76 423.34,502.24 423.71,504.72 424.09,507.19 424.48,509.67 424.87,512.14 425.27,514.61 425.69,517.08 426.13,519.55 426.60,522.00 427.15,524.45 427.76,526.88 428.40,529.31 429.06,531.72 429.72,534.16 430.43,536.63 431.24,539.02 432.22,541.25 433.57,543.43 435.43,545.56 437.52,547.13 439.55,547.59 441.77,546.81 444.05,545.19 446.01,543.19 447.34,541.16 448.36,538.92 449.20,536.50 449.94,534.03 450.66,531.63 451.38,529.23 452.07,526.82 452.73,524.40 453.36,521.98 453.96,519.55 454.55,517.11 455.12,514.67 455.68,512.23 456.24,509.79 456.78,507.35 457.31,504.90 457.83,502.45 458.35,500.00 458.86,497.55 459.36,495.09 459.81,492.63 460.22,490.16 460.59,487.68 460.97,485.21 461.36,482.73 461.78,480.26 462.21,477.80 462.65,475.33 463.09,472.87 463.53,470.40 463.98,467.93 464.46,465.47 464.97,463.03 465.58,460.60 466.31,458.18 467.12,455.80 467.98,453.46 469.03,451.08 470.82,449.61 473.18,450.26 474.44,452.53 475.39,454.83 476.28,457.17 477.13,459.55 477.91,461.94 478.63,464.33 479.34,466.74 480.00,469.16 480.59,471.59 481.08,474.04 481.51,476.50 481.90,478.98 482.29,481.46 482.67,483.93 483.04,486.41 483.40,488.89 483.78,491.36 484.20,493.83 484.65,496.29 485.14,498.75 485.63,501.21 486.11,503.67 486.59,506.12 487.08,508.58 487.58,511.03 488.09,513.48 488.61,515.93 489.15,518.38 489.71,520.82 490.28,523.26 490.89,525.70 491.53,528.13 492.21,530.54 492.93,532.91 493.78,535.32 494.77,537.72 495.90,539.97 497.16,541.95 498.97,543.67 501.20,545.00 503.72,544.08 505.49,542.55 506.72,540.57 507.81,538.22 508.75,535.72 509.52,533.29 510.22,530.90 510.88,528.46 511.48,526.01 512.01,523.56 512.48,521.10 512.92,518.62 513.36,516.15 513.82,513.68 514.36,511.22 514.92,508.77 515.46,506.32 515.89,503.85 516.21,501.37 516.46,498.87 516.70,496.36 516.96,493.86 517.26,491.37 517.58,488.88 517.90,486.39 518.21,483.90 518.53,481.41 518.86,478.92 519.18,476.43 519.46,473.93 519.72,471.44 519.95,468.94 520.17,466.44 520.38,463.93 520.58,461.43 520.77,458.93 520.96,456.42 521.18,453.92 521.44,451.42 521.73,448.93 522.03,446.44 522.31,443.94 522.56,441.44 522.78,438.94 522.99,436.44 523.21,433.94 523.46,431.44 523.73,428.94 524.01,426.45 524.29,423.95 524.58,421.46 524.87,418.97 525.17,416.47 525.47,413.98 525.76,411.49 526.04,408.99 526.33,406.49 526.63,404.00 526.97,401.52 527.36,399.04 527.79,396.56 528.24,394.09 528.67,391.62 529.10,389.13 529.55,386.65 530.04,384.19 530.62,381.78 531.42,379.41 532.42,377.08 533.50,374.80 534.24,377.20 534.95,379.62 535.62,382.04 536.21,384.48 536.72,386.92 537.13,389.39 537.50,391.87 537.83,394.36 538.14,396.85 538.42,399.34 538.69,401.83 538.96,404.33 539.22,406.82 539.47,409.32 539.72,411.81 539.96,414.31 540.22,416.80 540.49,419.30 540.78,421.79 541.08,424.28 541.37,426.77 541.65,429.26 541.94,431.75 542.21,434.24 542.49,436.74 542.75,439.23 543.01,441.72 543.27,444.22 543.53,446.71 543.78,449.21 544.04,451.70 544.30,454.20 544.56,456.69 544.82,459.18 545.08,461.68 545.33,464.17 545.59,466.67 545.85,469.16 546.10,471.66 546.36,474.15 546.62,476.64 546.89,479.14 547.17,481.63 547.46,484.12 547.77,486.61 548.09,489.10 548.45,491.58 548.83,494.06 549.22,496.53 549.59,499.01 549.95,501.50 550.31,503.98 550.68,506.46 551.07,508.93 551.51,511.40 551.97,513.87 552.46,516.33 552.96,518.79 553.48,521.24 554.03,523.69 554.61,526.14 555.22,528.56 555.87,531.00 556.61,533.44 557.44,535.82 558.38,538.07 559.68,540.39 561.40,542.47 563.35,543.57 565.79,542.73 567.52,541.04 569.07,539.01 570.44,536.80 571.66,534.58 572.77,532.36 573.80,530.07 574.80,527.75 575.77,525.43 576.70,523.10 577.58,520.74 578.49,518.40 579.49,516.11 580.59,513.87 581.79,511.66 583.07,509.50 584.42,507.38 585.90,505.01 587.56,503.14 589.42,503.80 591.20,505.97 592.63,508.02 593.94,510.17 595.14,512.39 596.28,514.63 597.32,516.90 598.27,519.22 599.18,521.57 600.14,523.89 601.20,526.17 602.34,528.53 603.59,530.81 604.96,532.84 606.61,534.46 609.00,535.50 610.36,533.38 611.57,531.18 612.54,528.91 613.43,526.57 614.24,524.19 614.94,521.77 615.51,519.35 616.00,516.91 616.45,514.44 616.88,511.97 617.28,509.50 617.67,507.03 618.05,504.56 618.41,502.08 618.77,499.61 619.12,497.13 619.47,494.66 619.80,492.18 620.13,489.70 620.44,487.22 620.75,484.73 621.05,482.25 621.32,479.77 621.59,477.28 621.83,474.79 622.07,472.30 622.28,469.81 622.44,467.31 622.57,464.82 622.70,462.32 622.87,459.82 623.10,457.33 623.37,454.85 623.67,452.36 623.95,449.88 624.20,447.39 624.45,444.90 624.69,442.41 624.92,439.92 625.16,437.43 625.38,434.94 625.61,432.45 625.84,429.96 626.08,427.47 626.33,424.98 626.58,422.50 626.81,420.01 627.02,417.51 627.18,415.02 627.34,412.52 627.51,410.03 627.74,407.54 628.00,405.05 628.28,402.57 628.56,400.08 628.81,397.59 629.03,395.10 629.26,392.61 629.48,390.12 629.71,387.63 629.96,385.14 630.20,382.65 630.44,380.16 630.68,377.67 630.90,375.18 631.11,372.69 631.33,370.20 631.54,367.71 631.76,365.22 631.98,362.73 632.21,360.23 632.44,357.75 632.70,355.26 632.96,352.77 633.23,350.28 633.51,347.80 633.80,345.32 634.10,342.83 634.40,340.35 634.70,337.87 634.99,335.37 635.28,332.87 635.59,330.38 635.94,327.93 636.49,325.54 637.34,323.19 638.39,320.87 639.50,318.60 640.28,320.99 641.03,323.39 641.72,325.80 642.32,328.23 642.80,330.68 643.23,333.15 643.62,335.63 643.95,338.12 644.22,340.61 644.44,343.10 644.63,345.60 644.84,348.10 645.10,350.59 645.41,353.08 645.74,355.57 646.05,358.05 646.32,360.55 646.56,363.04 646.78,365.54 646.99,368.03 647.20,370.53 647.39,373.03 647.57,375.53 647.76,378.03 647.99,380.53 648.25,383.02 648.52,385.51 648.80,388.00 649.06,390.49 649.31,392.99 649.56,395.48 649.80,397.98 650.03,400.47 650.26,402.97 650.48,405.46 650.70,407.96 650.93,410.46 651.18,412.95 651.43,415.44 651.68,417.94 651.90,420.44 652.09,422.93 652.27,425.43 652.43,427.94 652.61,430.44 652.80,432.93 653.00,435.43 653.20,437.93 653.39,440.43 653.56,442.93 653.73,445.43 653.89,447.93 654.09,450.43 654.33,452.92 654.63,455.41 654.94,457.90 655.22,460.39 655.43,462.89 655.56,465.39 655.68,467.90 655.85,470.40 656.13,472.89 656.50,475.37 656.90,477.84 657.26,480.32 657.53,482.81 657.71,485.31 657.86,487.82 658.05,490.32 658.32,492.81 658.68,495.29 659.07,497.76 659.47,500.24 659.83,502.72 660.16,505.20 660.48,507.69 660.82,510.17 661.19,512.65 661.60,515.12 662.05,517.59 662.51,520.06 662.98,522.52 663.46,524.98 663.96,527.44 664.49,529.89 665.05,532.32 665.69,534.77 666.44,537.22 667.29,539.60 668.26,541.82 669.54,543.99 671.20,546.06 673.08,547.82 675.06,549.04 677.38,549.91 680.00,550.30" stroke="#333333" stroke-width="3.86" stroke-dasharray="0 2.37 3.86 6.36 3.86 6.36 3.86 6.36 3.86 6.36 3.86 6.36 3.86 6.36 3.86 6.36 3.86 6.36 3.86 6.36 3.86 6.32 3.86 6.26 3.86 6.25 3.86 6.22 3.86 6.21 3.86 6.2 3.86 6.21 3.86 6.24 3.86 6.29 3.86 6.32 3.86 6.33 3.86 6.35 3.86 6.32 3.86 6.32 3.86 6.32 3.86 6.32 3.86 6.32 3.86 6.32 3.86 6.32 3.86 6.36 3.86 6.36 3.86 6.36 3.86 6.36 3.86 6.36 3.86 6.36 3.86 6.36 3.86 6.36 3.86 6.36 3.86 6.36 3.86 6.36 3.86 6.36 3.86 6.3 3.86 6.3 3.86 6.3 3.86 6.3 3.86 6.3 3.86 6.3 3.86 6.3 3.86 6.3 3.86 6.3 3.86 6.36 3.86 6.36 3.86 6.36 3.86 6.37 3.86 6.44 3.86 6.44 3.86 6.44 3.86 6.44 3.86 6.44 3.86 6.44 3.86 6.41 3.86 6.35 3.86 6.35 3.86 6.35 3.86 6.35 3.86 6.35 3.86 6.34 3.86 6.36 3.86 6.32 3.86 6.32 3.86 6.32 3.86 6.32 3.86 6.32 3.86 6.32 3.86 6.32 3.86 6.32 3.86 6.32 3.86 6.36 3.86 6.32 3.86 6.32 3.86 6.32 3.86 6.32 3.86 6.32 3.86 6.32 3.86 6.32 3.86 6.32 3.86 6.32 3.86 6.32 3.86 6.32 3.86 6.36 3.86 6.36 3.86 6.36 3.86 6.36 3.86 6.36 3.86 6.36 3.86 6.36 3.86 6.34 3.86 6.34 3.86 6.33 3.86 6.33 3.86 6.32 3.86 6.31 3.86 6.28 3.86 6.28 3.86 6.28 3.86 6.29 3.86 6.29 3.86 6.31 3.86 6.31 3.86 6.33 3.86 6.36 3.86 6.36 3.86 6.36 3.86 6.36 3.86 6.33 3.86 6.31 3.86 6.17 3.86 6.14 3.86 6.13 3.86 6.13 3.86 6.13 3.86 6.17 3.86 6.18 3.86 6.34 3.86 6.36 3.86 6.37 3.86 6.36 3.86 6.35 3.86 6.33 3.86 6.3 3.86 6.28 3.86 6.24 3.86 6.24 3.86 6.22 3.86 6.22 3.86 6.23 3.86 6.25 3.86 6.27 3.86 6.32 3.86 6.31 3.86 6.33 3.86 6.34 3.86 6.36 3.86 6.36 3.86 6.35 3.86 6.31 3.86 6.31 3.86 6.31 3.86 6.31 3.86 6.31 3.86 6.31 3.86 6.31 3.86 6.31 3.86 6.31 3.86 6.37 3.86 6.36 3.86 6.36 3.86 6.36 3.86 6.36 3.86 6.35 3.86 6.36 3.86 6.35 3.86 6.36 3.86 6.36 3.86 6.36 3.86 6.3 3.86 6.3 3.86 6.3 3.86 6.3 3.86 6.3 3.86 6.3 3.86 6.3 3.86 6.3 3.86 6.35 3.86 6.35 3.86 6.35 3.86 6.33 3.86 6.33 3.86 6.32 3.86 6.33 3.86 6.33 3.86 6.33 3.86 6.26 3.86 6.25 3.86 6.25 3.86 6.25 3.86 6.24 3.86 6.24 3.86 6.24 3.86 6.3 3.86 6.32 3.86 6.31 3.86 6.32 3.86 6.31 3.86 6.32 3.86 6.31 3.86 6.32 3.86 6.31 3.86 6.32 3.86 6.32 3.86 6.32 3.86 6.31 3.86 6.32 3.86 6.32 3.86 6.32 3.86 6.31 3.86 6.31 3.86 6.31 3.86 6.28 3.86 6.29 3.86 6.28 3.86 6.29 3.86 6.28 3.86 6.29 3.86 6.29 3.86 6.32 3.86 6.33 3.86 6.34 3.86 6.34 3.86 6.36 3.86 6.36 3.86 6.46 3.86 6.46 3.86 6.47 3.86 6.48 3.86 6.48 3.86 6.47 3.86 6.47 3.86 6.37 3.86 6.38 3.86 6.23 3.86 6.23 3.86 6.23 3.86 6.23 3.86 6.36 3.86 6.35 3.86 6.32 3.86 6.31 3.86 6.3 3.86 6.3 3.86 6.3 3.86 6.3 3.86 6.31 3.86 6.34 3.86 6.36 3.86 6.37 3.86 6.38 3.86 6.38 3.86 6.39 3.86 6.39 3.86 6.38 3.86 6.37 3.86 6.37 3.86 6.36 3.86 6.35 3.86 6.33 3.86 6.32 3.86 6.32 3.86 6.31 3.86 6.31 3.86 6.31 3.86 6.31 3.86 6.32 3.86 6.34 3.86 6.35 3.86 6.36 3.86 6.37 3.86 6.37 3.86 6.38 3.86 6.38 3.86 6.37 3.86 6.37 3.86 6.37 3.86 6.36 3.86 6.35 3.86 6.34 3.86 6.33 3.86 6.34 3.86 6.33 3.86 6.33 3.86 6.34 3.86 6.36 3.86 6.38 3.86 6.39 3.86 6.39 3.86 6.39 3.86 6.39 3.86 6.39 3.86 6.37 3.86 6.36 3.86 6.36 3.86 6.36 3.86 6.36 3.86 6.36 3.86 53.2"/>
<polyline points="45.30,550.90 47.80,550.90 50.31,550.90 52.81,550.90 55.32,550.90 57.82,550.90 60.33,550.90 62.83,550.90 65.34,550.90 67.84,550.90 70.35,550.90 72.85,550.90 75.36,550.90 77.86,550.90 80.37,550.90 82.87,550.90 85.38,550.90 87.88,550.90 90.39,550.90 92.89,550.90 95.40,550.90 97.90,550.90 100.41,550.90 102.91,550.90 105.42,550.90 107.92,550.90 110.43,550.90 112.93,550.90 115.44,550.90 117.94,550.90 120.45,550.90 122.96,550.90 125.52,550.90 128.13,550.90 130.70,550.90 133.18,550.90 135.48,550.90 137.59,549.96 139.47,547.93 141.10,545.97 142.62,543.98 144.05,541.87 145.33,539.70 146.43,537.49 147.42,535.20 148.35,532.85 149.21,530.48 150.04,528.12 150.84,525.75 151.61,523.36 152.37,520.97 153.13,518.58 153.91,516.20 154.68,513.82 155.42,511.42 156.08,509.01 156.69,506.58 157.26,504.14 157.81,501.69 158.34,499.25 158.87,496.80 159.39,494.35 159.90,491.90 160.39,489.44 160.87,486.98 161.33,484.52 161.79,482.06 162.28,479.60 162.82,477.15 163.39,474.71 163.94,472.27 164.43,469.81 164.85,467.34 165.22,464.87 165.59,462.39 166.00,459.92 166.46,457.46 166.97,455.00 167.50,452.55 168.05,450.11 168.64,447.68 169.26,445.25 169.91,442.83 170.58,440.41 171.28,438.01 172.01,435.61 172.74,433.22 173.46,430.82 174.13,428.40 174.74,425.95 175.33,423.50 175.97,421.10 176.72,418.73 177.66,416.34 178.79,414.02 180.08,411.91 181.61,410.05 183.59,408.32 185.83,406.93 188.11,406.16 190.63,406.15 193.26,406.77 195.51,407.87 197.21,409.46 198.67,411.54 199.97,413.84 201.16,416.08 202.25,418.32 203.30,420.60 204.34,422.89 205.43,425.16 206.58,427.38 207.76,429.59 208.94,431.80 210.11,434.02 211.23,436.25 212.34,438.50 213.45,440.75 214.59,442.98 215.79,445.18 217.02,447.36 218.26,449.54 219.46,451.73 220.62,453.96 221.74,456.20 222.86,458.44 224.01,460.66 225.19,462.88 226.38,465.10 227.63,467.29 228.97,469.39 230.46,471.35 232.15,473.20 233.93,474.99 235.70,476.78 237.42,478.61 239.13,480.44 240.86,482.25 242.62,484.03 244.42,485.77 246.25,487.50 248.13,489.17 250.06,490.74 252.08,492.20 254.17,493.58 256.31,494.91 258.46,496.21 260.59,497.55 262.71,498.95 264.86,500.27 267.08,501.36 269.40,502.16 271.82,502.82 274.28,503.38 276.76,503.86 279.23,504.34 281.70,504.86 284.18,505.29 286.67,505.50 289.14,505.40 291.62,505.06 294.10,504.60 296.57,504.13 299.05,503.70 301.52,503.26 303.98,502.79 306.42,502.24 308.82,501.59 311.20,500.79 313.56,499.93 315.92,499.07 318.29,498.25 320.66,497.44 323.03,496.62 325.37,495.75 327.69,494.80 329.98,493.79 332.25,492.73 334.53,491.67 336.79,490.60 339.05,489.50 341.30,488.41 343.58,487.38 345.91,486.46 348.28,485.66 350.67,484.89 353.05,484.11 355.40,483.24 357.72,482.29 360.04,481.33 362.37,480.42 364.74,479.63 367.14,478.91 369.56,478.24 371.99,477.63 374.43,477.07 376.88,476.51 379.34,475.99 381.81,475.57 384.29,475.29 386.78,475.06 389.28,474.88 391.79,474.74 394.29,474.65 396.80,474.57 399.30,474.53 401.81,474.56 404.30,474.70 406.79,474.95 409.28,475.27 411.77,475.59 414.26,475.84 416.77,476.03 419.27,476.22 421.76,476.47 424.21,476.85 426.64,477.48 429.05,478.22 431.47,478.91 433.92,479.39 436.39,479.74 438.88,480.04 441.37,480.36 443.84,480.77 446.30,481.25 448.76,481.75 451.22,482.24 453.68,482.66 456.16,483.05 458.64,483.42 461.12,483.75 463.61,484.03 466.11,484.23 468.61,484.41 471.10,484.62 473.59,484.92 476.06,485.33 478.52,485.78 480.99,486.24 483.46,486.63 485.94,487.01 488.42,487.37 490.90,487.69 493.39,487.96 495.89,488.17 498.39,488.35 500.89,488.53 503.38,488.72 505.88,488.99 508.37,489.28 510.87,489.51 513.36,489.60 515.86,489.49 518.35,489.24 520.85,488.94 523.34,488.67 525.84,488.42 528.33,488.17 530.82,487.90 533.30,487.59 535.77,487.17 538.23,486.66 540.68,486.15 543.15,485.73 545.63,485.44 548.13,485.18 550.62,484.95 553.12,484.74 555.62,484.55 558.12,484.40 560.63,484.25 563.12,484.05 565.60,483.72 568.06,483.24 570.52,482.72 572.99,482.30 575.47,482.02 577.97,481.77 580.47,481.58 582.97,481.49 585.48,481.54 587.98,481.61 590.48,481.69 592.99,481.77 595.49,481.84 598.00,481.91 600.50,481.98 603.01,482.06 605.50,482.19 608.00,482.41 610.49,482.70 612.98,483.03 615.46,483.35 617.94,483.71 620.42,484.08 622.89,484.47 625.37,484.85 627.84,485.24 630.32,485.64 632.79,486.01 635.28,486.32 637.78,486.53 640.28,486.69 642.78,486.89 645.26,487.20 647.71,487.67 650.16,488.24 652.61,488.79 655.07,489.25 657.54,489.69 660.02,490.10 662.50,490.43 664.99,490.64 667.48,490.78 669.99,490.90 672.49,491.01 675.00,491.13 677.50,491.26 680.00,491.40" stroke="#333333" stroke-width="3.86" stroke-dasharray="0 2.37 3.86 6.36 3.86 6.36 3.86 6.36 3.86 6.36 3.86 6.36 3.86 6.37 3.86 6.37 3.86 6.37 3.86 6.37 3.86 6.37 3.86 6.35 3.86 6.35 3.86 6.32 3.86 6.32 3.86 6.32 3.86 6.32 3.86 6.32 3.86 6.34 3.86 6.34 3.86 6.35 3.86 6.18 3.86 5.88 3.86 5.8 3.86 5.78 3.86 5.77 3.86 5.76 3.86 5.76 3.86 5.93 3.86 6.2 3.86 6.25 3.86 6.24 3.86 6.25 3.86 6.24 3.86 6.23 3.86 6.21 3.86 6.21 3.86 6.21 3.86 6.2 3.86 6.16 3.86 6.18 3.86 6.19 3.86 6.2 3.86 6.21 3.86 6.2 3.86 6.25 3.86 6.27 3.86 6.21 3.86 6.19 3.86 6.17 3.86 6.17 3.86 6.21 3.86 6.2 3.86 6.2 3.86 6.22 3.86 6.25 3.86 6.26 3.86 6.26 3.86 6.26 3.86 6.27 3.86 6.28 3.86 6.32 3.86 6.32 3.86 6.32 3.86 6.32 3.86 6.33 3.86 6.33 3.86 6.33 3.86 6.32 3.86 6.32 3.86 6.33 3.86 6.32 3.86 6.31 3.86 6.3 3.86 6.3 3.86 6.3 3.86 6.32 3.86 6.33 3.86 6.32 3.86 53.39"/>
</g>
<rect x="45.3" y="0.8" width="630.90" height="576.60" fill="none" stroke="#000" stroke-width="1.75"/>
<line x1="45.30" y1="577.4" x2="45.30" y2="585.00" stroke="#000" stroke-width="1.75"/>
<text x="45.40" y="619.7" text-anchor="middle" font-size="38.0">1</text>
<line x1="135.43" y1="577.4" x2="135.43" y2="585.00" stroke="#000" stroke-width="1.75"/>
<text x="135.13" y="619.7" text-anchor="middle" font-size="38.0">2</text>
<line x1="225.56" y1="577.4" x2="225.56" y2="585.00" stroke="#000" stroke-width="1.75"/>
<text x="225.26" y="619.7" text-anchor="middle" font-size="38.0">3</text>
<line x1="315.69" y1="577.4" x2="315.69" y2="585.00" stroke="#000" stroke-width="1.75"/>
<text x="315.39" y="619.7" text-anchor="middle" font-size="38.0">4</text>
<line x1="405.81" y1="577.4" x2="405.81" y2="585.00" stroke="#000" stroke-width="1.75"/>
<text x="405.51" y="619.7" text-anchor="middle" font-size="38.0">5</text>
<line x1="495.94" y1="577.4" x2="495.94" y2="585.00" stroke="#000" stroke-width="1.75"/>
<text x="495.64" y="619.7" text-anchor="middle" font-size="38.0">6</text>
<line x1="586.07" y1="577.4" x2="586.07" y2="585.00" stroke="#000" stroke-width="1.75"/>
<text x="585.77" y="619.7" text-anchor="middle" font-size="38.0">7</text>
<line x1="676.20" y1="577.4" x2="676.20" y2="585.00" stroke="#000" stroke-width="1.75"/>
<text x="675.90" y="619.7" text-anchor="middle" font-size="38.0">8</text>
<line x1="90.36" y1="577.4" x2="90.36" y2="581.80" stroke="#000" stroke-width="1.3"/>
<line x1="180.49" y1="577.4" x2="180.49" y2="581.80" stroke="#000" stroke-width="1.3"/>
<line x1="270.62" y1="577.4" x2="270.62" y2="581.80" stroke="#000" stroke-width="1.3"/>
<line x1="360.75" y1="577.4" x2="360.75" y2="581.80" stroke="#000" stroke-width="1.3"/>
<line x1="450.88" y1="577.4" x2="450.88" y2="581.80" stroke="#000" stroke-width="1.3"/>
<line x1="541.01" y1="577.4" x2="541.01" y2="581.80" stroke="#000" stroke-width="1.3"/>
<line x1="631.14" y1="577.4" x2="631.14" y2="581.80" stroke="#000" stroke-width="1.3"/>

<rect x="35" y="615" width="9.1" height="7" fill="#fff"/><rect x="48.05" y="615" width="8" height="7" fill="#fff"/>
<text x="359.9" y="672" text-anchor="middle" font-size="38.5">r (Å)</text>
<text transform="translate(27.6,289.8) rotate(-90)" text-anchor="middle" font-size="38.4">g(r)</text>
<rect x="502.15" y="14" width="160.75" height="117.6" rx="3.8" ry="3.8" fill="#fff" fill-opacity="0.8" stroke="#d4d4d4" stroke-width="2.1"/>
<line x1="510" y1="33.4" x2="566" y2="33.4" stroke="#CCBB44" stroke-width="4.15"/>
<line x1="510" y1="70.1" x2="566" y2="70.1" stroke="#EE6677" stroke-width="4.15"/>
<line x1="510" y1="106.9" x2="564.2" y2="106.9" stroke="#333333" stroke-width="3.86" stroke-dasharray="3.86 6.36" stroke-dashoffset="-2.4"/>
<text class="lg" x="584.45" y="42.1" font-size="25.6">Solid</text>
<text class="lg" x="584.45" y="78.5" font-size="25.6">Liquid</text>
<text class="lg" x="584.45" y="115.1" font-size="25.6">AIMD</text>
</svg>
</body>
</html>
